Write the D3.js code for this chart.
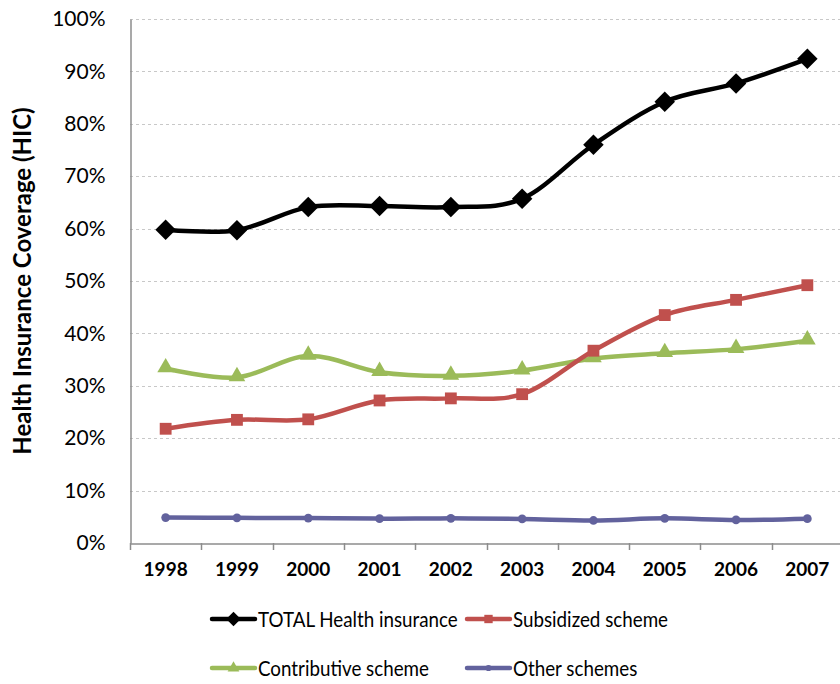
<!DOCTYPE html>
<html>
<head>
<meta charset="utf-8">
<script src="https://cdn.jsdelivr.net/npm/d3@7"></script>
<style>
  body { margin: 0; background: #fff; }
  svg { display: block; font-family: Lato, "Open Sans", sans-serif; }
</style>
</head>
<body>
<div id="chart"></div>
<script>
// Health insurance coverage by scheme, 1998-2007

const years = ["1998", "1999", "2000", "2001", "2002", "2003", "2004", "2005", "2006", "2007"];
const totalHI = [59.8, 59.7, 64.1, 64.3, 64.1, 65.7, 76.0, 84.2, 87.7, 92.4];
const subsidized = [21.8, 23.5, 23.6, 27.2, 27.6, 28.4, 36.7, 43.5, 46.4, 49.2];
const contributive = [33.3, 31.6, 35.7, 32.6, 31.9, 32.9, 35.2, 36.2, 37.0, 38.6];
const otherSchemes = [4.85, 4.8, 4.75, 4.65, 4.7, 4.6, 4.3, 4.7, 4.4, 4.65];
const yTicks = [0, 10, 20, 30, 40, 50, 60, 70, 80, 90, 100];

const series = [
    { name: "TOTAL Health insurance", values: totalHI, color: "#000000", symbol: "diamond" },
    { name: "Subsidized scheme", values: subsidized, color: "#C0504D", symbol: "square" },
    { name: "Contributive scheme", values: contributive, color: "#9BBB59", symbol: "triangle" },
    { name: "Other schemes", values: otherSchemes, color: "#62629D", symbol: "circle" }
];

const W = 840, H = 684;
const margin = { top: 19, right: -3, bottom: 141, left: 130 };

const svg = d3.select("#chart").append("svg")
    .attr("width", W)
    .attr("height", H);

const x = d3.scaleBand()
    .domain(years)
    .range([margin.left, W - margin.right]);

const y = d3.scaleLinear()
    .domain([0, 100])
    .range([H - margin.bottom, margin.top]);

// Gridlines (dashed)
svg.append("g")
    .selectAll("line")
    .data(yTicks.filter(d => d > 0))
    .join("line")
    .attr("x1", margin.left)
    .attr("x2", W)
    .attr("y1", d => Math.round(y(d)) + 0.5)
    .attr("y2", d => Math.round(y(d)) + 0.5)
    .attr("stroke", "#c8c8c8")
    .attr("stroke-width", 1)
    .attr("stroke-dasharray", "3,3");

// Y axis
const yAxis = svg.append("g")
    .attr("transform", `translate(${margin.left + 0.5},0)`)
    .call(d3.axisLeft(y).tickValues(yTicks).tickFormat(d => d + "%").tickSize(0).tickPadding(25));
yAxis.select(".domain").attr("stroke", "#8c8c8c").attr("stroke-width", 1.5);
yAxis.selectAll("text")
    .attr("font-family", "Lato, sans-serif")
    .attr("font-size", "21px")
    .attr("fill", "#000");

// X axis
const xAxis = svg.append("g")
    .attr("transform", `translate(0,${Math.round(y(0)) + 0.5})`)
    .call(d3.axisBottom(x).tickSize(0).tickPadding(19));
xAxis.select(".domain").attr("stroke", "#8c8c8c").attr("stroke-width", 1.5);
xAxis.selectAll("text")
    .attr("font-family", "Lato, sans-serif")
    .attr("font-size", "19px")
    .attr("font-weight", "bold")
    .attr("fill", "#000");

// x tick marks at band boundaries
svg.append("g")
    .selectAll("line")
    .data(years)
    .join("line")
    .attr("x1", d => Math.round(x(d)) + 0.5)
    .attr("x2", d => Math.round(x(d)) + 0.5)
    .attr("y1", y(0))
    .attr("y2", y(0) + 7)
    .attr("stroke", "#8c8c8c")
    .attr("stroke-width", 1.5);

// Y axis title
svg.append("text")
    .attr("transform", `translate(31,${(y(0) + y(100)) / 2}) rotate(-90)`)
    .attr("text-anchor", "middle")
    .attr("font-family", "Lato, sans-serif")
    .attr("font-size", "24px")
    .attr("font-weight", "bold")
    .text("Health Insurance Coverage (HIC)");

// Markers
const symbolTypes = {
    diamond: d3.symbolSquare,
    square: d3.symbolSquare,
    triangle: d3.symbolTriangle,
    circle: d3.symbolCircle
};
const symbolSizes = { diamond: 210, square: 140, triangle: 120, circle: 60 };

function marker(s, k) {
    return d3.symbol().type(symbolTypes[s.symbol]).size(symbolSizes[s.symbol] * (k || 1))();
}

const line = d3.line()
    .x((d, i) => x(years[i]) + x.bandwidth() / 2)
    .y(d => y(d))
    .curve(d3.curveCatmullRom.alpha(0));

// Draw series in reverse so total is on top
series.slice().reverse().forEach(s => {
    const g = svg.append("g");
    g.append("path")
        .datum(s.values)
        .attr("d", line)
        .attr("fill", "none")
        .attr("stroke", s.color)
        .attr("stroke-width", 4.5)
        .attr("stroke-linejoin", "round");
    g.selectAll("path.mk")
        .data(s.values)
        .join("path")
        .attr("class", "mk")
        .attr("d", marker(s))
        .attr("fill", s.color)
        .attr("transform", (d, i) => {
            let t = `translate(${x(years[i]) + x.bandwidth() / 2},${y(d)})`;
            if (s.symbol === "diamond") t += " rotate(45)";
            if (s.symbol === "triangle") t += " translate(0,-1)";
            return t;
        });
});

// Legend
const legendPos = [
    { lx: 212, ty: 619 },
    { lx: 467, ty: 619 },
    { lx: 212, ty: 668 },
    { lx: 467, ty: 668 }
];
const legend = svg.append("g");
const legendTexts = [];
series.forEach((s, i) => {
    const p = legendPos[i];
    const g = legend.append("g").attr("transform", `translate(${p.lx},${p.ty})`);
    g.append("line")
        .attr("x1", 0).attr("x2", 43)
        .attr("stroke", s.color)
        .attr("stroke-width", 4.5)
        .attr("stroke-linecap", "round");
    g.append("path")
        .attr("d", marker(s, 0.5))
        .attr("fill", s.color)
        .attr("transform", "translate(21.5,0)" + (s.symbol === "diamond" ? " rotate(45)" : ""));
    legendTexts.push(g.append("text")
        .attr("x", 0)
        .attr("dy", "0.35em")
        .attr("font-family", "Lato, sans-serif")
        .attr("font-size", "22px")
        .text(s.name));
});
// squeeze text horizontally (Calibri in the original is narrower than Lato)
const squeeze = 200 / legendTexts[0].node().getComputedTextLength();
legendTexts.forEach(t => {
    t.attr("transform", `translate(46,0) scale(${squeeze},1)`);
});
</script>
</body>
</html>
